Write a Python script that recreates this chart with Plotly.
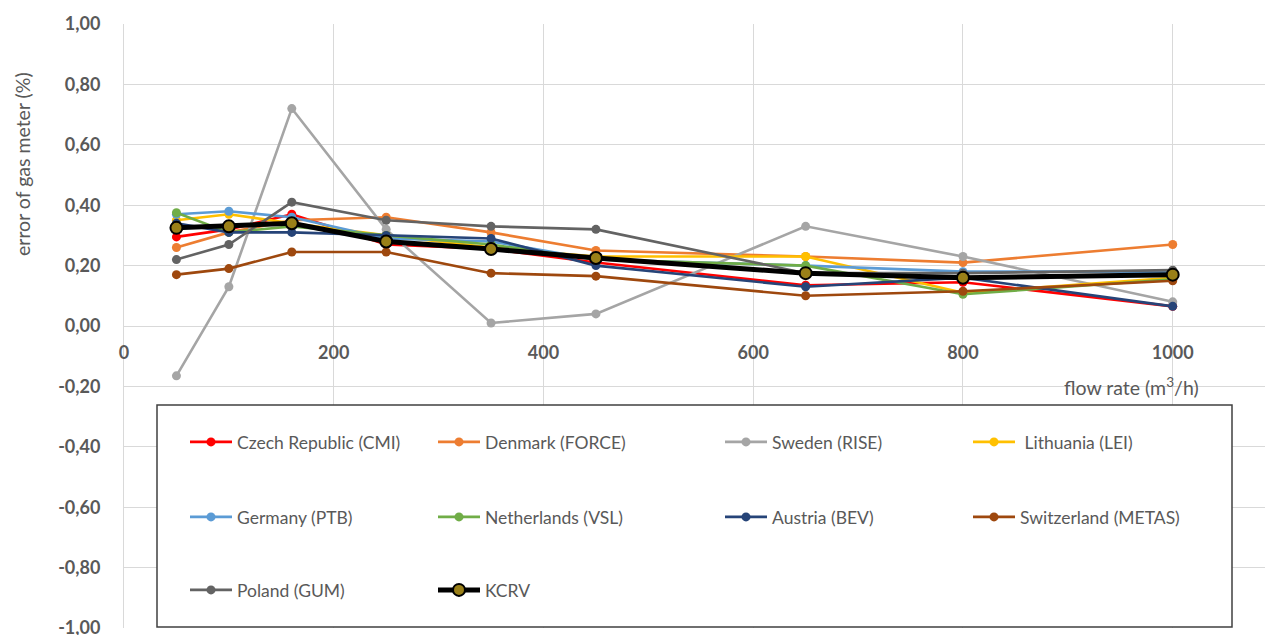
import plotly.graph_objects as go

# ---- data -------------------------------------------------------------
flow_rate = [50, 100, 160, 250, 350, 450, 650, 800, 1000]

cz_cmi = [0.295, 0.32, 0.37, 0.27, 0.255, 0.21, 0.135, 0.145, 0.065]
dk_force = [0.26, 0.31, 0.35, 0.36, 0.31, 0.25, 0.23, 0.21, 0.27]
se_rise = [-0.165, 0.13, 0.72, 0.32, 0.01, 0.04, 0.33, 0.23, 0.08]
lt_lei = [0.35, 0.37, 0.34, 0.30, 0.26, 0.23, 0.23, 0.11, 0.16]
de_ptb = [0.37, 0.38, 0.36, 0.29, 0.28, 0.22, 0.20, 0.18, 0.18]
nl_vsl = [0.375, 0.31, 0.33, 0.30, 0.27, 0.22, 0.20, 0.105, 0.155]
at_bev = [0.34, 0.31, 0.31, 0.30, 0.29, 0.20, 0.13, 0.16, 0.065]
ch_metas = [0.17, 0.19, 0.245, 0.245, 0.175, 0.165, 0.10, 0.115, 0.15]
pl_gum = [0.22, 0.27, 0.41, 0.35, 0.33, 0.32, 0.175, 0.175, 0.185]
kcrv = [0.325, 0.33, 0.34, 0.28, 0.255, 0.225, 0.175, 0.16, 0.17]

series_names = [
    "Czech Republic (CMI)", "Denmark (FORCE)", "Sweden (RISE)", " Lithuania (LEI)",
    "Germany (PTB)", "Netherlands (VSL)", "Austria (BEV)", "Switzerland (METAS)",
    "Poland (GUM)", "KCRV",
]
series_values = [cz_cmi, dk_force, se_rise, lt_lei, de_ptb, nl_vsl, at_bev,
                 ch_metas, pl_gum, kcrv]

x_tick_values = [0, 200, 400, 600, 800, 1000]
x_tick_labels = ["0", "200", "400", "600", "800", "1000"]
y_tick_values = [-1.0, -0.8, -0.6, -0.4, -0.2, 0.0, 0.2, 0.4, 0.6, 0.8, 1.0]
y_tick_labels = ["-1,00", "-0,80", "-0,60", "-0,40", "-0,20", "0,00",
                 "0,20", "0,40", "0,60", "0,80", "1,00"]

# ---- styling ----------------------------------------------------------
colors = ["#FF0000", "#ED7D31", "#A5A5A5", "#FFC000", "#5B9BD5",
          "#70AD47", "#264478", "#9E480E", "#636363", "#000000"]

W, H = 1267, 635
M_L, M_R, M_T, M_B = 124, 2, 24, 7
PW, PH = W - M_L - M_R, H - M_T - M_B

def px_x(px):
    return (px - M_L) / PW

def px_y(py):
    return (H - M_B - py) / PH

# legend grid: 4 columns x 3 rows, filled row by row
col_px = [190, 438, 725, 973]
row_px = [442, 517, 590]

TEXT = "#595959"
FONT = "Lato"

fig = go.Figure()
for i, (name, vals, col) in enumerate(zip(series_names, series_values, colors)):
    is_ref = name == "KCRV"
    leg = "legend" if i == 0 else f"legend{i + 1}"
    fig.add_trace(go.Scatter(
        x=flow_rate, y=vals, name=name, mode="lines+markers",
        line=dict(color=col, width=5 if is_ref else 2.6),
        marker=dict(
            symbol="circle",
            size=12 if is_ref else 9,
            color="#9A8018" if is_ref else col,
            line=dict(color="#000000" if is_ref else col, width=2 if is_ref else 0),
        ),
        legend=leg,
    ))

legends = {}
for i in range(len(series_names)):
    r, c = divmod(i, 4)
    key = "legend" if i == 0 else f"legend{i + 1}"
    legends[key] = dict(
        x=px_x(col_px[c] - 5), y=px_y(row_px[r]),
        xanchor="left", yanchor="middle",
        bgcolor="rgba(0,0,0,0)", borderwidth=0,
        itemwidth=42,
        font=dict(family=FONT, size=17.5, color=TEXT),
    )

fig.update_layout(
    width=W, height=H,
    margin=dict(l=M_L, r=M_R, t=M_T, b=M_B, autoexpand=False),
    plot_bgcolor="white", paper_bgcolor="white",
    showlegend=True,
    xaxis=dict(
        range=[0, 1088], tickvals=x_tick_values, ticktext=x_tick_labels,
        anchor="free", position=0.5, automargin=False,
        showgrid=True, gridcolor="#D9D9D9", gridwidth=1,
        zeroline=False, showline=False, ticks="",
        ticklabelstandoff=14,
        tickfont=dict(family=FONT, size=18, color=TEXT, weight="bold"),
    ),
    yaxis=dict(
        range=[-1, 1], tickvals=y_tick_values, ticktext=y_tick_labels,
        automargin=False,
        showgrid=True, gridcolor="#D9D9D9", gridwidth=1,
        zeroline=True, zerolinecolor="#D9D9D9", zerolinewidth=1,
        showline=True, linecolor="#D9D9D9", linewidth=1,
        ticks="", ticklabelstandoff=19, ticklabeloverflow="allow",
        tickfont=dict(family=FONT, size=18, color=TEXT, weight="bold"),
    ),
    shapes=[dict(
        type="rect", xref="paper", yref="paper", layer="above",
        x0=px_x(157), x1=px_x(1232), y0=px_y(627), y1=px_y(405),
        line=dict(color="#404040", width=1.5), fillcolor="white",
    )],
    annotations=[
        dict(text="error of gas meter (%)", textangle=-90,
             xref="paper", yref="paper", x=px_x(23), y=px_y(164),
             xanchor="center", yanchor="middle", showarrow=False,
             font=dict(family=FONT, size=19.5, color=TEXT)),
        dict(text="flow rate (m<sup>3</sup>/h)",
             xref="paper", yref="paper", x=px_x(1131), y=px_y(386),
             xanchor="center", yanchor="middle", showarrow=False,
             font=dict(family=FONT, size=19.5, color=TEXT)),
    ],
    **legends,
)

fig.write_html("out.html")
